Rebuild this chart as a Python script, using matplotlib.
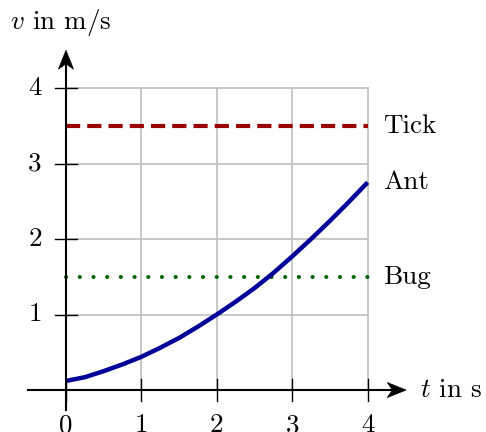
import numpy as np
import matplotlib
matplotlib.use("Agg")
import matplotlib.pyplot as plt
from matplotlib.patches import Polygon

plt.rcParams["font.family"] = "cmr10"
plt.rcParams["mathtext.fontset"] = "cm"
plt.rcParams["axes.formatter.use_mathtext"] = True

# speeds over time
t_ant = [0.0, 0.25, 0.5, 0.75, 1.0, 1.25, 1.5, 1.75, 2.0,
         2.25, 2.5, 2.75, 3.0, 3.25, 3.5, 3.75, 4.0]
v_ant = [0.12, 0.17, 0.25, 0.34, 0.44, 0.56, 0.69, 0.84, 1.0,
         1.17, 1.35, 1.55, 1.77, 2.0, 2.24, 2.49, 2.75]
t_flat = [0.0, 4.0]
v_tick = 3.5
v_bug = 1.5

ticks = [0, 1, 2, 3, 4]
names = ["Tick", "Ant", "Bug"]
label_v = [3.5, 2.75, 1.5]

FS = 19.5


def arrow_head(ax, tip, direction, length=0.25, half=0.1, inset=0.07):
    # stealth style head, direction is (dx, dy) unit vector
    dx, dy = direction
    nx, ny = -dy, dx
    tx, ty = tip
    bx, by = tx - dx * length, ty - dy * length
    pts = [
        (tx, ty),
        (bx + nx * half, by + ny * half),
        (bx + dx * inset, by + dy * inset),
        (bx - nx * half, by - ny * half),
    ]
    ax.add_patch(Polygon(pts, closed=True, fc="black", ec="black", lw=0.5, zorder=6))


def main():
    fig = plt.figure(figsize=(4.86, 4.32), dpi=100)
    ax = fig.add_axes([0, 0, 1, 1])
    ax.set_xlim(-0.875, 5.57)
    ax.set_ylim(-0.556, 5.166)
    ax.axis("off")

    # grid
    for k in ticks[1:]:
        ax.plot([k, k], [0, 4], color="#c4c4c4", lw=1.3, zorder=1)
        ax.plot([0, 4], [k, k], color="#c4c4c4", lw=1.3, zorder=1)

    # axes with arrows
    ax.plot([-0.5, 4.4], [0, 0], color="black", lw=1.5, zorder=5)
    ax.plot([0, 0], [-0.26, 4.4], color="black", lw=1.5, zorder=5)
    arrow_head(ax, (4.51, 0), (1, 0))
    arrow_head(ax, (0, 4.5), (0, 1))

    for k in ticks:
        ax.plot([k, k], [-0.14, 0.14], color="black", lw=1.0, zorder=5)
        ax.text(k, -0.47, str(k), ha="center", va="center", fontsize=FS)
    for k in ticks[1:]:
        ax.plot([-0.14, 0.14], [k, k], color="black", lw=1.0, zorder=5)
        ax.text(-0.32, k, str(k), ha="right", va="center", fontsize=FS)

    # series
    ax.plot(t_flat, [v_tick, v_tick], color="#990000", lw=3.0,
            dashes=(3.4, 1.7), dash_capstyle="butt", zorder=3)
    ax.plot(t_flat, [v_bug, v_bug], color="#006600", lw=2.9,
            dashes=(0.05, 3.35), dash_capstyle="round", zorder=3)
    ax.plot(t_ant, v_ant, color="#000099", lw=3.2, solid_capstyle="butt",
            solid_joinstyle="round", zorder=4)

    for name, v in zip(names, label_v):
        ax.text(4.2, v, name, ha="left", va="center", fontsize=FS)

    ax.text(-0.74, 4.87, r"$v$ in m/s", ha="left", va="center", fontsize=FS)
    ax.text(4.69, 0.0, r"$t$ in s", ha="left", va="center", fontsize=FS)

    fig.savefig("out.png", dpi=100)


if __name__ == "__main__":
    main()
